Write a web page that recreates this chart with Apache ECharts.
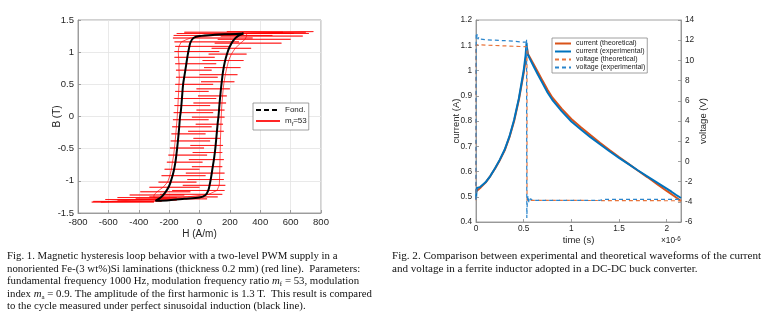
<!DOCTYPE html>
<html><head><meta charset="utf-8">
<script src="https://cdn.jsdelivr.net/npm/echarts@6/dist/echarts.min.js"></script>
<style>
html,body{margin:0;padding:0;background:#fff;}
#chart{position:absolute;left:0;top:0;width:773px;height:328px;}
.cap{position:absolute;font-family:'Liberation Serif','Times New Roman',serif;line-height:12.5px;color:#111;white-space:nowrap;}
.cap i{font-style:italic;}
.cap sub{font-size:7px;line-height:0;vertical-align:-2px;}
</style></head><body>
<div id="chart"></div>
<div class="cap" style="left:7px;top:249px;font-size:10.8px;">Fig. 1. Magnetic hysteresis loop behavior with a two-level PWM supply in a<br>nonoriented Fe-(3 wt%)Si laminations (thickness 0.2 mm) (red line).&nbsp; Parameters:<br>fundamental frequency 1000 Hz, modulation frequency ratio <i>m</i><sub>f</sub> = 53, modulation<br>index <i>m</i><sub>a</sub> = 0.9. The amplitude of the first harmonic is 1.3 T.&nbsp; This result is compared<br>to the cycle measured under perfect sinusoidal induction (black line).</div>
<div class="cap" style="left:392px;top:249px;font-size:11.1px;">Fig. 2. Comparison between experimental and theoretical waveforms of the current<br>and voltage in a ferrite inductor adopted in a DC-DC buck converter.</div>
<script>
// ---------- Fig. 1 data ----------
var hTicks = [-800, 800, 200];
var bTicks = [-1.5, 1.5, 0.5];
// black loop (sinusoidal induction), descending branch then ascending branch
var fondH = [290, 200, 100, 0, -40, -60, -70, -78, -88, -98, -108, -115, -122, -128, -135, -143, -150, -158, -170, -185, -200, -225, -255, -290,
             -200, -100, 0, 40, 58, 68, 76, 86, 96, 104, 112, 120, 125, 132, 140, 147, 155, 167, 182, 198, 222, 252, 290];
var fondB = [1.29, 1.28, 1.27, 1.25, 1.22, 1.15, 1.05, 0.95, 0.8, 0.65, 0.5, 0.3, 0.1, 0, -0.2, -0.4, -0.55, -0.7, -0.85, -0.98, -1.08, -1.18, -1.26, -1.31,
             -1.30, -1.28, -1.26, -1.22, -1.15, -1.05, -0.95, -0.8, -0.65, -0.5, -0.3, -0.1, 0, 0.2, 0.4, 0.55, 0.7, 0.85, 0.98, 1.08, 1.18, 1.25, 1.29];
// PWM loop: ascending branch levels
var upB  = [-1.33, -1.30, -1.28, -1.25, -1.21, -1.15, -1.07, -0.98, -0.88, -0.78, -0.67, -0.56, -0.45, -0.34, -0.23, -0.12, -0.01, 0.10, 0.21, 0.32, 0.43, 0.54, 0.65, 0.76, 0.87, 0.97, 1.06, 1.14, 1.20, 1.25, 1.29, 1.32];
var upBr = [-650, -450, -250, -80, 60, 115, 130, 132, 133, 134, 135, 136, 137, 138, 140, 141, 143, 145, 148, 152, 156, 162, 170, 180, 192, 210, 235, 270, 300, 310, 310, 300];
var upLo = [-710, -540, -420, -330, -260, -180, -110, -80, -90, -50, -70, -45, -60, -40, -75, -25, -50, -20, -40, -10, -20, 10, 0, 30, 20, 60, 80, 100, 120, 140, 160, 180];
var upHi = [-300, -150, 50, 120, 150, 165, 170, 160, 165, 150, 160, 150, 155, 150, 160, 155, 165, 165, 175, 180, 200, 230, 250, 270, 290, 310, 340, 540, 600, 680, 720, 750];
// PWM loop: descending branch levels
var dnB  = [1.31, 1.29, 1.26, 1.22, 1.16, 1.09, 1.01, 0.92, 0.82, 0.72, 0.61, 0.50, 0.39, 0.28, 0.17, 0.06, -0.05, -0.16, -0.27, -0.38, -0.49, -0.60, -0.71, -0.82, -0.92, -1.02, -1.10, -1.17, -1.22, -1.26, -1.29, -1.32];
var dnBr = [550, 300, 100, -60, -120, -135, -140, -138, -135, -135, -133, -135, -137, -140, -142, -145, -148, -152, -156, -160, -165, -170, -178, -185, -195, -210, -240, -280, -300, -300, -310, -300];
var dnLo = [-100, -150, -170, -175, -165, -160, -165, -165, -160, -155, -155, -160, -160, -165, -165, -170, -175, -180, -185, -190, -195, -205, -215, -230, -250, -270, -330, -390, -460, -540, -620, -700];
var dnHi = [700, 620, 480, 350, 260, 200, 130, 100, 110, 80, 120, 90, 60, 110, 70, 90, 60, 80, 40, 70, 30, 50, 20, 0, 40, -20, 0, -60, -100, -150, -180, -250];

// ---------- Fig. 2 data (time in 1e-6 s) ----------
var tTicks = [0, 2.15, 0.5];
var curTheoT = [0, 0.05, 0.1, 0.15, 0.2, 0.25, 0.3, 0.35, 0.4, 0.45, 0.5, 0.52, 0.535, 0.545, 0.55, 0.6, 0.65, 0.7, 0.75, 0.8, 0.9, 1.0, 1.1, 1.2, 1.3, 1.4, 1.5, 1.6, 1.7, 1.8, 1.9, 2.0, 2.1, 2.15];
var curTheoI = [0.521, 0.537, 0.556, 0.582, 0.612, 0.645, 0.683, 0.735, 0.800, 0.885, 0.99, 1.04, 1.09, 1.065, 1.058, 1.028, 0.993, 0.958, 0.924, 0.893, 0.848, 0.808, 0.775, 0.744, 0.714, 0.685, 0.657, 0.630, 0.603, 0.577, 0.550, 0.523, 0.497, 0.483];
var curExpT = [0, 0.005, 0.01, 0.02, 0.04, 0.06, 0.1, 0.15, 0.2, 0.25, 0.3, 0.35, 0.4, 0.45, 0.5, 0.52, 0.53, 0.535, 0.54, 0.55, 0.56, 0.6, 0.65, 0.7, 0.75, 0.8, 0.9, 1.0, 1.1, 1.2, 1.3, 1.4, 1.5, 1.6, 1.7, 1.8, 1.9, 2.0, 2.05, 2.1, 2.12, 2.15];
var curExpI = [0.49, 0.52, 0.535, 0.533, 0.538, 0.541, 0.557, 0.582, 0.613, 0.647, 0.686, 0.738, 0.805, 0.89, 1.0, 1.06, 1.11, 1.105, 1.065, 1.058, 1.05, 1.02, 0.983, 0.948, 0.913, 0.884, 0.838, 0.798, 0.766, 0.736, 0.708, 0.680, 0.654, 0.629, 0.604, 0.580, 0.556, 0.532, 0.520, 0.507, 0.505, 0.495];
var voltTheoT = [0, 0, 0.535, 0.535, 2.15];
var voltTheoV = [-3.85, 11.55, 11.35, -3.85, -3.9];
var voltExpT = [0, 0.002, 0.008, 0.012, 0.02, 0.03, 0.05, 0.1, 0.2, 0.3, 0.4, 0.5, 0.525, 0.53, 0.533, 0.538, 0.545, 0.555, 0.57, 0.6, 0.8, 1.0, 1.3, 1.35, 2.15];
var voltExpV = [-3.8, 12.6, 12.3, 12.6, 12.1, 12.3, 12.1, 12.05, 12.0, 11.95, 11.9, 11.8, 11.8, 12.1, -5.6, -4.0, -3.4, -4.1, -3.7, -3.85, -3.85, -3.85, -3.85, -3.75, -3.75];

// ---------- build series data ----------
function zip(a, b) { var r = []; for (var i = 0; i < a.length; i++) r.push([a[i], b[i]]); return r; }
function levels(B, br, lo, hi, out) {
  for (var i = 0; i < B.length; i++) {
    out.push([br[i], B[i]]); out.push([hi[i], B[i]]); out.push([lo[i], B[i]]); out.push([br[i], B[i]]);
  }
}
var pwm = []; levels(upB, upBr, upLo, upHi, pwm); levels(dnB, dnBr, dnLo, dnHi, pwm); pwm.push([upBr[0], upB[0]]);

var FONT = 'Liberation Sans, Arial, sans-serif';
var axisCol = '#8c8c8c', txtCol = '#262626';
function ax(extra) {
  var o = {
    type: 'value', nameLocation: 'middle', nameMoveOverlap: false,
    nameTextStyle: {fontSize: 10, color: txtCol, fontFamily: FONT},
    axisLine: {show: true, onZero: false, lineStyle: {color: axisCol, width: 0.8}},
    axisTick: {show: true, inside: true, length: 3, lineStyle: {color: axisCol, width: 0.8}},
    axisLabel: {fontSize: 9.5, color: txtCol, fontFamily: FONT, margin: 4},
    splitLine: {show: false}
  };
  for (var k in extra) o[k] = extra[k];
  return o;
}
var chart = echarts.init(document.getElementById('chart'), null, {renderer: 'canvas'});
var legendText = {fontSize: 8, color: '#222', fontFamily: FONT,
  rich: {m: {fontSize: 8, fontFamily: FONT, color: '#222'}, s: {fontSize: 5.5, fontFamily: FONT, color: '#222', padding: [6, 0, 0, 0]}}};
var lab2 = {fontSize: 8.3, color: txtCol, fontFamily: FONT, margin: 4};
chart.setOption({
  animation: false,
  textStyle: {fontFamily: FONT},
  grid: [
    {left: 78, right: 452, top: 20, bottom: 115, show: true, borderColor: axisCol, borderWidth: 0.8},
    {left: 476, right: 92, top: 20, bottom: 106, show: true, borderColor: axisCol, borderWidth: 0.8}
  ],
  xAxis: [
    ax({gridIndex: 0, min: hTicks[0], max: hTicks[1], interval: hTicks[2], name: 'H (A/m)', nameGap: 16,
        splitLine: {show: true, lineStyle: {color: '#e3e3e3', width: 0.8}}}),
    ax({gridIndex: 1, min: tTicks[0], max: tTicks[1], interval: tTicks[2], name: 'time (s)', nameGap: 13,
        nameTextStyle: {fontSize: 9.5, color: txtCol, fontFamily: FONT},
        axisLabel: {fontSize: 8.3, color: txtCol, fontFamily: FONT, margin: 3,
          formatter: function (v) { return Math.abs(v * 2 - Math.round(v * 2)) < 1e-6 ? String(+v.toFixed(1)) : ''; }}})
  ],
  yAxis: [
    ax({gridIndex: 0, min: bTicks[0], max: bTicks[1], interval: bTicks[2], name: 'B (T)', nameGap: 16,
        splitLine: {show: true, lineStyle: {color: '#e3e3e3', width: 0.8}}}),
    ax({gridIndex: 1, min: 0.4, max: 1.2, interval: 0.1, name: 'current (A)', nameGap: 15, position: 'left',
        nameTextStyle: {fontSize: 9.5, color: txtCol, fontFamily: FONT}, axisLabel: lab2}),
    ax({gridIndex: 1, min: -6, max: 14, interval: 2, name: 'voltage (V)', nameGap: 17, position: 'right',
        nameTextStyle: {fontSize: 9.5, color: txtCol, fontFamily: FONT}, axisLabel: lab2})
  ],
  legend: [
    {data: [{name: 'Fond.', lineStyle: {type: [5, 3], width: 2}}, 'mf=53'], left: 253, top: 103, orient: 'vertical',
     itemWidth: 24, itemHeight: 8, itemGap: 3, padding: [3, 2, 3, 2], borderColor: '#888', borderWidth: 0.8,
     backgroundColor: '#fff', textStyle: legendText, itemStyle: {opacity: 0},
     formatter: function (n) { return n === 'mf=53' ? '{m|m}{s|f}{m|=53}' : n; }},
    {data: ['current (theoretical)', 'current (experimental)', 'voltage (theoretical)', 'voltage (experimental)'],
     left: 552, top: 38, orient: 'vertical', itemWidth: 16, itemHeight: 8, itemGap: 1, padding: [2, 2, 2, 2],
     borderColor: '#888', borderWidth: 0.8, backgroundColor: '#fff', itemStyle: {opacity: 0},
     textStyle: {fontSize: 7, color: '#222', fontFamily: FONT}}
  ],
  graphic: [
    {type: 'text', left: 661, top: 236, style: {text: '{a|×10}{b|-6}', rich: {a: {fontSize: 8.3, fontFamily: FONT, fill: txtCol, padding: [4, 0, 0, 0]}, b: {fontSize: 6.3, fontFamily: FONT, fill: txtCol}}}}
  ],
  series: [
    {name: 'mf=53', type: 'line', xAxisIndex: 0, yAxisIndex: 0, data: pwm, symbol: 'none',
     lineStyle: {color: '#ff0000', width: 0.8, opacity: 0.85}, itemStyle: {color: '#ff0000'}, z: 2},
    {name: 'Fond.', type: 'line', xAxisIndex: 0, yAxisIndex: 0, data: zip(fondH, fondB), symbol: 'none', smooth: 0.3,
     lineStyle: {color: '#000', width: 2}, itemStyle: {color: '#000'}, z: 3},
    {name: 'current (theoretical)', type: 'line', xAxisIndex: 1, yAxisIndex: 1, data: zip(curTheoT, curTheoI), symbol: 'none',
     lineStyle: {color: '#D95319', width: 2}, itemStyle: {color: '#D95319'}, z: 2},
    {name: 'current (experimental)', type: 'line', xAxisIndex: 1, yAxisIndex: 1, data: zip(curExpT, curExpI), symbol: 'none',
     lineStyle: {color: '#0072BD', width: 2}, itemStyle: {color: '#0072BD'}, z: 3},
    {name: 'voltage (theoretical)', type: 'line', xAxisIndex: 1, yAxisIndex: 2, data: zip(voltTheoT, voltTheoV), symbol: 'none',
     lineStyle: {color: '#E8743B', width: 1.2, type: [4, 3]}, itemStyle: {color: '#E8743B'}, z: 4},
    {name: 'voltage (experimental)', type: 'line', xAxisIndex: 1, yAxisIndex: 2, data: zip(voltExpT, voltExpV), symbol: 'none',
     lineStyle: {color: '#2A85CC', width: 1.2, type: [4, 3]}, itemStyle: {color: '#2A85CC'}, z: 4}
  ]
});
</script>
</body></html>
